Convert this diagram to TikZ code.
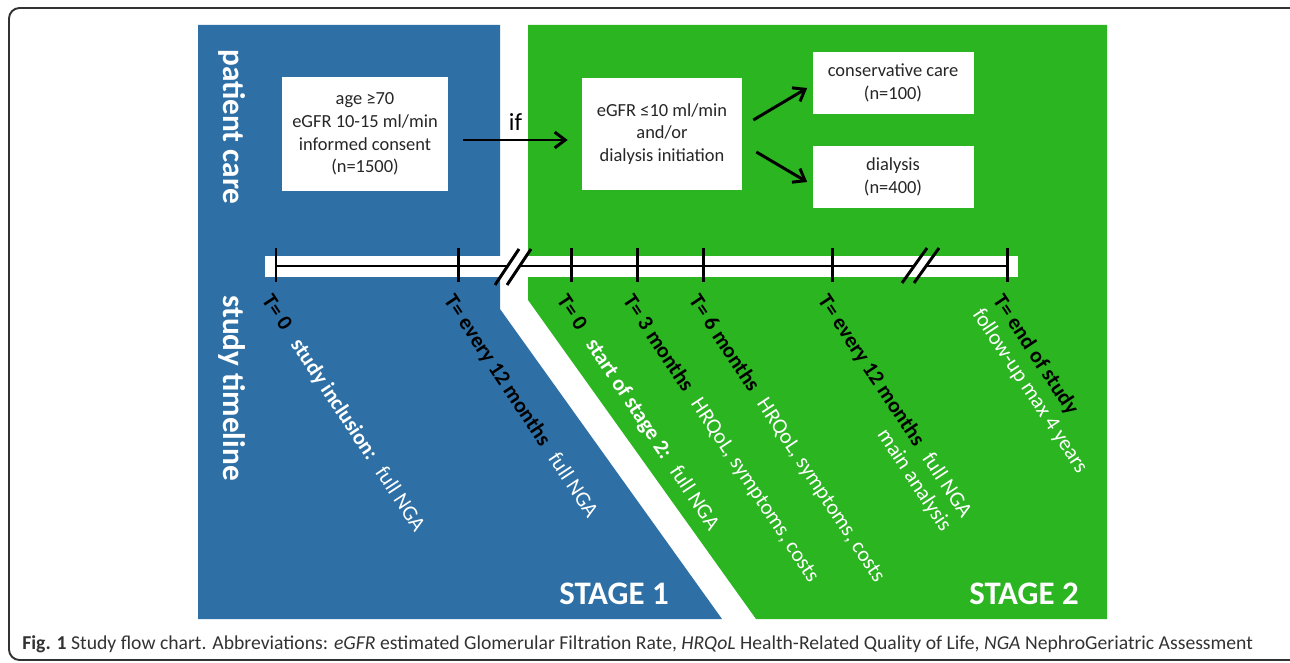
\documentclass[tikz,border=0pt]{standalone}
\usepackage{fontspec}
\setmainfont{Carlito}
\usetikzlibrary{arrows.meta,calc}
\definecolor{stageblue}{RGB}{46,112,165}
\definecolor{stagegreen}{RGB}{43,181,33}
\definecolor{boxtext}{RGB}{38,38,38}
\definecolor{framegray}{RGB}{50,50,50}
\tikzset{
  flowbox/.style={fill=white,text=boxtext,align=center,inner sep=0pt,
    font=\fontsize{10.5}{12.9}\selectfont},
  flowarrow/.style={line width=1.7pt,-{Straight Barb[length=6pt,width=9pt]}},
  tickline/.style={line width=1.7pt},
  timelabel/.style={rotate=-56.5,anchor=north west,inner sep=0pt,text=white,
    font=\fontsize{12.3}{13.8}\selectfont},
  sidelabel/.style={rotate=-90,text=white,font=\bfseries\fontsize{17.8}{20}\selectfont},
  stagelabel/.style={text=white,font=\bfseries\fontsize{18.7}{22}\selectfont}
}
\newcommand{\tmark}[1]{{\bfseries\color{black}#1}}
\begin{document}
\begin{tikzpicture}[x=0.02cm,y=-0.02cm]
    \useasboundingbox (0,0) rectangle (1290,662);
    \draw[framegray,line width=1.1pt,rounded corners=6pt] (1300,660) -| (9,8) -- (1300,8);
    % the two stages
    \fill[stageblue] (198,25) -- (500,25) -- (500,309) -- (722,619) -- (198,619) -- cycle;
    \fill[stagegreen] (528,25) -- (1107,25) -- (1107,619) -- (756,619) -- (528,300) -- cycle;
    \node[sidelabel] (care) at (232,127) {patient care};
    \node[sidelabel] (study) at (232,388) {study timeline};
    \node[stagelabel] (stage1) at (614,594) {STAGE 1};
    \node[stagelabel] (stage2) at (1024,594) {STAGE 2};
    % patient care
    \node[flowbox,minimum width=3.32cm,minimum height=2.3cm] (incl) at (365,134)
      {age ≥70\\eGFR 10-15 ml/min\\informed consent\\(n=1500)};
    \node[flowbox,minimum width=3.2cm,minimum height=2.26cm] (start) at (662,134)
      {eGFR ≤10 ml/min\\and/or\\dialysis initiation};
    \node[flowbox,minimum width=3.22cm,minimum height=1.26cm] (cons) at (893,83)
      {conservative care\\(n=100)};
    \node[flowbox,minimum width=3.22cm,minimum height=1.26cm] (dial) at (893,177)
      {dialysis\\(n=400)};
    \draw[flowarrow] ($(incl.east)+(15,6)$) -- node[above=1pt,font=\fontsize{14}{16}\selectfont] (if) {if} ($(start.west)+(-14,6)$);
    \draw[flowarrow] ($(start.east)+(11,-14)$) -- ($(cons.west)+(-5,5)$);
    \draw[flowarrow] ($(start.east)+(14,18)$) -- ($(dial.west)+(-5,5)$);
    % study timeline
    \fill[white] (265,256) rectangle (1018,277);
    \draw[tickline] (276,266) -- (508,266);
    \draw[tickline] (520,266) -- (914,266);
    \draw[tickline] (926,266) -- (1007,266);
    \draw[tickline] (495,285) -- (519,249);
    \draw[tickline] (507,285) -- (531,249);
    \draw[tickline] (902,283) -- (927,248);
    \draw[tickline] (914,283) -- (939,248);
    \draw[tickline] (276,248) -- (276,282);
    \draw[tickline] (458,248) -- (458,282);
    \draw[tickline] (571,248) -- (571,282);
    \draw[tickline] (637,248) -- (637,282);
    \draw[tickline] (703,248) -- (703,282);
    \draw[tickline] (832,248) -- (832,282);
    \draw[tickline] (1007,248) -- (1007,282);
    \node[timelabel] (t1) at (274,292) {\tmark{T= 0}\hspace{0.7em}{\bfseries study inclusion:}\hspace{0.6em}full NGA};
    \node[timelabel] (t2) at (456,292) {\tmark{T= every 12 months}\hspace{0.6em}full NGA};
    \node[timelabel] (t3) at (569,292) {\tmark{T= 0}\hspace{0.7em}{\bfseries start of stage 2:}\hspace{0.6em}full NGA};
    \node[timelabel] (t4) at (635,292) {\tmark{T= 3 months}\hspace{0.6em}HRQoL, symptoms, costs};
    \node[timelabel] (t5) at (701,292) {\tmark{T= 6 months}\hspace{0.6em}HRQoL, symptoms, costs};
    \node[timelabel,align=right] (t6) at (830,292) {\tmark{T= every 12 months}\hspace{0.6em}full NGA\\main analysis};
    \node[timelabel,align=left] (t7) at (1005,292) {\tmark{T= end of study}\\follow-up max 4 years};
    % caption
    \node[anchor=base west,inner sep=0pt,text=framegray,font=\fontsize{11.2}{13}\selectfont] (caption) at (22,649)
      {{\bfseries Fig. 1} Study flow chart. Abbreviations: \textit{eGFR} estimated Glomerular Filtration Rate, \textit{HRQoL} Health-Related Quality of Life, \textit{NGA} NephroGeriatric Assessment};
  \end{tikzpicture}
\end{document}
